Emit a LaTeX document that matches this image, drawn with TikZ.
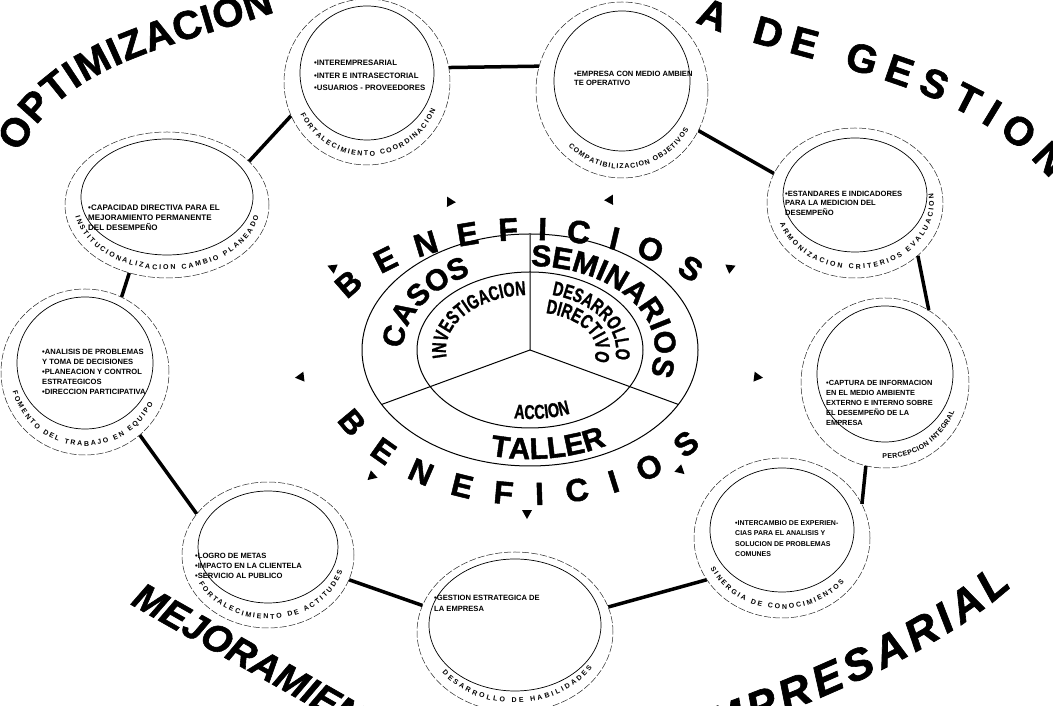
\documentclass[tikz,border=0pt]{standalone}
\usepackage{fontspec}
\setmainfont{Liberation Sans}
\newfontfamily\narrowfont[FakeStretch=0.72,FakeBold=1]{Liberation Sans}
\newfontfamily\heavyfont[FakeBold=1.5]{Liberation Sans}
\usepackage{tikz}
\usetikzlibrary{calc}
\usetikzlibrary{decorations.text}
\usetikzlibrary{positioning, shapes.geometric}

\tikzset{
  ring/.style={ellipse,draw=black!85,line width=0.5pt,dash pattern=on 7pt off 2pt,fill=white,inner sep=0pt},
  core/.style={line width=0.7pt},
  items/.style={anchor=north west,align=left,inner sep=0pt,font=\fontsize{7.6}{10}\selectfont\bfseries},
  link/.style={line width=3.5pt},
  pointer/.style={isosceles triangle,isosceles triangle stretches,fill,inner sep=0pt,minimum height=9pt,minimum width=10pt},
  arclabel/.style={decorate,decoration={text along path,text align={fit to path},text={|\fontsize{7}{7}\selectfont\bfseries|#1}}},
  title/.style={decorate,decoration={text along path,text align={fit to path},text={|\heavyfont\fontsize{40}{40}\selectfont\bfseries|#1}}},
  titleleft/.style={decorate,decoration={text along path,text align=left,text={|\heavyfont\fontsize{38}{38}\selectfont\bfseries\itshape|#1}}},
  titlefit/.style={decorate,decoration={text along path,text align={fit to path},text={|\heavyfont\fontsize{44}{44}\selectfont\bfseries\itshape|#1}}},
  sector/.style={decorate,decoration={text along path,text align=center,text={|\heavyfont\fontsize{30}{30}\selectfont\bfseries|#1}}},
  theme/.style={decorate,decoration={text along path,text align=center,text={|\narrowfont\fontsize{20}{20}\selectfont\bfseries|#1}}},
  gain/.style={decorate,decoration={text along path,text align={fit to path},text={|\heavyfont\fontsize{32}{32}\selectfont\bfseries|#1}}}
}

\begin{document}
\begin{tikzpicture}[x=1pt,y=1pt]
\useasboundingbox (0,0) rectangle (1053,706);
\clip (0,0) rectangle (1053,706);

% titles round the ring
\path[title={OPTIMIZACION}] (20,553) .. controls (62,644) and (178,660) .. (275,694);
\path[title={A DE GESTION}] (695,684) .. controls (790,642) and (960,632) .. (1050,527);
\path[titleleft={MEJORAMIENTO}] (130,102) .. controls (205,58) and (300,8) .. (410,-58);
\path[titlefit={EMPRESARIAL}] (682,-45) .. controls (790,-6) and (930,46) .. (1012,120);

% the nine areas
\node[ring,minimum width=166pt,minimum height=166pt] (coord) at (367,624) {};
\draw[core] ($(coord)+(0,9)$) ellipse[x radius=67,y radius=67];
\node[items,font=\fontsize{7.8}{12.5}\selectfont\bfseries] (coordtxt) at (314,646) {•INTEREMPRESARIAL\\•INTER E INTRASECTORIAL\\•USUARIOS - PROVEEDORES};
\path[arclabel={FORTALECIMIENTO COORDINACION}] ($(coord)+(206:74 and 74)$) arc[start angle=206,end angle=338,x radius=74,y radius=74];

\node[ring,minimum width=172pt,minimum height=176pt] (compat) at (622,616) {};
\draw[core] ($(compat)+(0,9)$) ellipse[x radius=68,y radius=70];
\node[items,font=\fontsize{7.6}{9.5}\selectfont\bfseries] (compattxt) at (574,635) {•EMPRESA CON MEDIO AMBIEN\\TE OPERATIVO};
\path[arclabel={COMPATIBILIZACION OBJETIVOS}] ($(compat)+(226:77 and 79)$) arc[start angle=226,end angle=330,x radius=77,y radius=79];

\node[ring,minimum width=176pt,minimum height=150pt] (armon) at (855,503) {};
\draw[core] ($(armon)+(0,8)$) ellipse[x radius=72,y radius=57];
\node[items,font=\fontsize{7.6}{9.5}\selectfont\bfseries] (armontxt) at (785,515) {•ESTANDARES E INDICADORES\\PARA LA MEDICION DEL\\DESEMPEÑO};
\path[arclabel={ARMONIZACION CRITERIOS EVALUACION}] ($(armon)+(198:79 and 66)$) arc[start angle=198,end angle=368,x radius=79,y radius=66];

\node[ring,minimum width=168pt,minimum height=170pt] (percep) at (885,323) {};
\draw[core] ($(percep)+(0,9)$) ellipse[x radius=68,y radius=68];
\node[items,font=\fontsize{7.4}{10}\selectfont\bfseries] (perceptxt) at (826,326) {•CAPTURA DE INFORMACION\\EN EL MEDIO AMBIENTE\\EXTERNO E INTERNO SOBRE\\EL DESEMPEÑO DE LA\\EMPRESA};
\path[arclabel={PERCEPCION INTEGRAL}] ($(percep)+(268:75 and 76)$) arc[start angle=268,end angle=338,x radius=75,y radius=76];

\node[ring,minimum width=176pt,minimum height=160pt] (sinerg) at (782,168) {};
\draw[core] ($(sinerg)+(0,8)$) ellipse[x radius=72,y radius=62];
\node[items,font=\fontsize{7}{10.5}\selectfont\bfseries] (sinergtxt) at (735,186) {•INTERCAMBIO DE EXPERIEN-\\CIAS PARA EL ANALISIS Y\\SOLUCION DE PROBLEMAS\\COMUNES};
\path[arclabel={SINERGIA DE CONOCIMIENTOS}] ($(sinerg)+(205:79 and 71)$) arc[start angle=205,end angle=322,x radius=79,y radius=71];

\node[ring,minimum width=196pt,minimum height=160pt] (habil) at (515,74) {};
\draw[core] ($(habil)+(0,7)$) ellipse[x radius=86,y radius=66];
\node[items,font=\fontsize{7.6}{11}\selectfont\bfseries] (habiltxt) at (434,111) {•GESTION ESTRATEGICA DE\\LA EMPRESA};
\path[arclabel={DESARROLLO DE HABILIDADES}] ($(habil)+(215:89 and 71)$) arc[start angle=215,end angle=330,x radius=89,y radius=71];

\node[ring,minimum width=172pt,minimum height=146pt] (actit) at (268,151) {};
\draw[core] ($(actit)+(0,8)$) ellipse[x radius=70,y radius=56];
\node[items] (actittxt) at (195,153) {•LOGRO DE METAS\\•IMPACTO EN LA CLIENTELA\\•SERVICIO AL PUBLICO};
\path[arclabel={FORTALECIMIENTO DE ACTITUDES}] ($(actit)+(206:77 and 64)$) arc[start angle=206,end angle=345,x radius=77,y radius=64];

\node[ring,minimum width=168pt,minimum height=166pt] (equipo) at (85,334) {};
\draw[core] ($(equipo)+(0,9)$) ellipse[x radius=68,y radius=66];
\node[items] (equipotxt) at (42,357) {•ANALISIS DE PROBLEMAS\\Y TOMA DE DECISIONES\\•PLANEACION Y CONTROL\\ESTRATEGICOS\\•DIRECCION PARTICIPATIVA};
\path[arclabel={FOMENTO DEL TRABAJO EN EQUIPO}] ($(equipo)+(195:75 and 74)$) arc[start angle=195,end angle=335,x radius=75,y radius=74];

\node[ring,minimum width=204pt,minimum height=146pt] (cambio) at (167,501) {};
\draw[core] ($(cambio)+(0,8)$) ellipse[x radius=86,y radius=58];
\node[items,font=\fontsize{8}{10}\selectfont\bfseries] (cambiotxt) at (88,501) {•CAPACIDAD DIRECTIVA PARA EL\\MEJORAMIENTO PERMANENTE\\DEL DESEMPEÑO};
\path[arclabel={INSTITUCIONALIZACION CAMBIO PLANEADO}] ($(cambio)+(190:93 and 65)$) arc[start angle=190,end angle=350,x radius=93,y radius=65];

% the ring between them
\draw[link] (coord.10) -- (compat.164);
\draw[link] (compat.332) -- (armon.160);
\draw[link] (armon.320) -- (percep.59);
\draw[link] (percep.257) -- (sinerg.23);
\draw[link] (sinerg.209) -- (habil.15);
\draw[link] (habil.164) -- (actit.343);
\draw[link] (actit.150) -- (equipo.311);
\draw[link] (equipo.64) -- (cambio.241);
\draw[link] (cambio.28) -- (coord.204);

% centre
\coordinate (hub) at (530,356);
\draw[line width=1pt] (hub) ellipse[x radius=168,y radius=116];
\draw[line width=1pt] (hub) ellipse[x radius=113,y radius=78];
\draw[line width=1pt] ($(hub)+(90:168 and 116)$) -- (hub) -- ($(hub)+(208:168 and 116)$);
\draw[line width=1pt] (hub) -- ($(hub)+(332:168 and 116)$);

\path[sector={CASOS}] ($(hub)+(245:127 and 85)$) arc[start angle=245,end angle=65,x radius=127,y radius=85];
\path[sector={SEMINARIOS}] ($(hub)+(123:125 and 84)$) arc[start angle=123,end angle=-57,x radius=125,y radius=84];
\path[sector={TALLER}] ($(hub)+(190:158 and 109)$) arc[start angle=190,end angle=370,x radius=158,y radius=109];
\path[theme={INVESTIGACION}] ($(hub)+(235:84 and 55)$) arc[start angle=235,end angle=55,x radius=84,y radius=55];
\path[theme={DESARROLLO}] ($(hub)+(118:86 and 57)$) arc[start angle=118,end angle=-62,x radius=86,y radius=57];
\path[theme={DIRECTIVO}] ($(hub)+(115:66 and 38)$) arc[start angle=115,end angle=-65,x radius=66,y radius=38];
\path[theme={ACCION}] ($(hub)+(200:103 and 69)$) arc[start angle=200,end angle=360,x radius=103,y radius=69];

\path[gain={BENEFICIOS}] ($(hub)+(153:205 and 110)$) arc[start angle=153,end angle=37,x radius=205,y radius=110];
\path[gain={BENEFICIOS}] ($(hub)+(207:217 and 155)$) arc[start angle=207,end angle=322,x radius=217,y radius=155];

\node[pointer,rotate=118] (p1) at (450,504) {};
\node[pointer,rotate=62] (p2) at (610,506) {};
\node[pointer,rotate=157] (p3) at (333,438) {};
\node[pointer,rotate=23] (p4) at (730,438) {};
\node[pointer,rotate=187] (p5) at (301,329) {};
\node[pointer,rotate=353] (p6) at (757,329) {};
\node[pointer,rotate=222] (p7) at (372,230) {};
\node[pointer,rotate=318] (p8) at (680,236) {};
\node[pointer,rotate=270] (p9) at (527,193) {};
\end{tikzpicture}
\end{document}
